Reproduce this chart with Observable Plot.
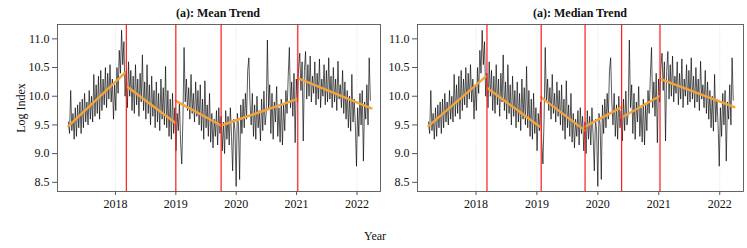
<!DOCTYPE html>
<html>
<head>
<meta charset="utf-8">
<script src="https://cdn.jsdelivr.net/npm/d3@7"></script>
<script src="https://cdn.jsdelivr.net/npm/@observablehq/plot@0.6"></script>
<style>
  body { margin: 0; background: #fff; }
  #wrap { position: relative; width: 747px; height: 248px; font-family: "Liberation Serif", "DejaVu Serif", serif; color: #111; }
  .panel { position: absolute; top: 0; }
  .title { position: absolute; top: 6px; font-size: 12px; font-weight: bold; transform: translateX(-50%); white-space: nowrap; }
  .ylab { position: absolute; left: 21px; top: 108px; font-size: 12px; transform: translate(-50%, -50%) rotate(-90deg); white-space: nowrap; }
  .xlab { position: absolute; left: 375px; top: 229px; font-size: 12px; transform: translateX(-50%); }
</style>
</head>
<body>
<div id="wrap">
  <div class="title" style="left:218px">(a): Mean Trend</div>
  <div class="title" style="left:580px">(a): Median Trend</div>
  <div class="ylab">Log Index</div>
  <div class="xlab">Year</div>
  <div id="left" class="panel" style="left:0px"></div>
  <div id="right" class="panel" style="left:380px"></div>
</div>
<script>
// Weekly log-index readings, starting 2017.22
const startYear = 2017.22;
const weekStep = 7 / 365.25;
const logIndex = [
  // 2017 spring
  9.55, 9.35, 10.10, 9.40, 9.70, 9.25, 9.80, 9.30, 9.85, 9.45, 9.90, 9.35,
  9.95, 9.45, 10.05, 9.55, 9.90, 9.50, 10.10, 9.60, 10.00, 9.55, 10.38, 9.65,
  10.20, 9.70, 10.35, 9.60, 10.45, 9.75, 10.30, 9.85, 10.50, 9.80, 10.40, 9.95, 10.55, 9.90, 10.30,
  9.60, 10.20, 9.75, 10.50, 10.05, 10.80, 10.40, 11.15, 10.55, 10.95, 10.00, 10.40,
  // 2018
  9.80, 10.60, 10.00, 10.45, 9.75, 10.35, 9.70, 10.55, 9.85, 10.30, 9.65, 10.40, 9.90, 10.72, 9.75, 10.25,
  9.60, 10.55, 9.70, 10.20, 9.50, 10.35, 9.65, 10.10, 9.45, 10.25, 9.55, 10.05, 9.40, 10.30, 9.60, 10.15, 9.50, 10.52,
  9.45, 10.10, 9.30, 9.95, 9.25, 10.05, 9.35, 9.80, 9.05,
  // 2019
  9.70, 9.40, 9.90, 9.20, 8.82, 9.60, 10.85, 9.90,
  10.30, 9.75, 10.15, 9.60, 10.38, 9.70, 10.05, 9.55, 10.25, 9.65, 10.10, 9.50,
  10.20, 9.40, 9.95, 9.25, 10.27, 9.45, 9.85, 9.30, 10.05,
  9.20, 9.70, 9.10, 9.60, 9.30, 9.75, 9.15, 9.80, 9.35, 9.65, 9.05, 9.55, 9.00,
  9.75, 9.25, 9.65, 9.15, 9.80, 9.30, 8.70, 9.60, 9.40, 8.43, 9.70, 9.50, 8.55,
  // 2020
  9.85, 9.35, 9.95, 9.45, 10.05, 9.60, 10.45, 10.67, 9.90,
  9.50, 10.05, 9.30, 9.85, 9.25, 10.00, 9.45, 9.75, 9.22, 9.95, 9.40, 10.09, 9.50,
  9.70, 10.98, 9.80, 10.20,
  9.35, 10.05, 9.25, 9.90, 9.55, 10.17, 9.30, 9.80, 9.20, 9.95, 9.15, 9.85, 9.40,
  10.10, 9.70, 10.35, 10.85, 9.80, 10.25, 9.65, 10.40, 9.19, 10.30, 9.90, 10.50,
  // 2021
  10.75, 10.10, 10.60, 9.22, 10.45, 10.78, 9.95, 10.55, 10.00, 10.70, 9.90, 10.35,
  10.05, 10.60, 9.85, 10.40, 9.95, 10.65, 9.80, 10.30, 10.00, 10.55, 9.85, 10.45, 9.90, 10.67, 9.95, 10.35, 9.80,
  10.50, 9.90, 10.30, 9.75, 10.61, 9.95, 10.20, 9.80, 10.45, 9.70, 10.25,
  9.60, 10.10, 9.45, 10.00, 9.39, 10.38, 9.55, 9.95, 9.50,
  8.78, 9.80, 9.30,
  // 2022
  10.05, 9.50, 10.10, 8.87, 9.90, 9.60, 10.20, 9.50, 10.67, 9.93
];

// Break points (decimal years)
const breaksMean = [2018.18, 2019.0, 2019.75, 2021.02];
const breaksMedian = [2018.18, 2019.07, 2019.79, 2020.39, 2021.02];

// Fitted trend segments: [x0, y0, x1, y1]
const trendMean = [
  [2017.22, 9.48, 2018.17, 10.42],
  [2018.19, 10.17, 2019.0, 9.53],
  [2019.0, 9.92, 2019.75, 9.49],
  [2019.75, 9.49, 2021.01, 9.95],
  [2021.03, 10.31, 2022.24, 9.79]
];
const trendMedian = [
  [2017.22, 9.48, 2018.17, 10.35],
  [2018.19, 10.14, 2019.06, 9.46],
  [2019.07, 9.98, 2019.79, 9.40],
  [2019.79, 9.47, 2020.39, 9.81],
  [2020.39, 9.63, 2021.01, 10.0],
  [2021.03, 10.30, 2022.24, 9.81]
];

const yearTicks = [2018, 2019, 2020, 2021, 2022];
const yTicks = [8.5, 9.0, 9.5, 10.0, 10.5, 11.0];

const series = logIndex.map((v, i) => ({x: startYear + i * weekStep, y: v}));

function segRows(segs) {
  const rows = [];
  segs.forEach((s, k) => {
    rows.push({seg: k, x: s[0], y: s[1]});
    rows.push({seg: k, x: s[2], y: s[3]});
  });
  return rows;
}

function panel(trend, breaks, width, marginLeft, marginRight) {
  const svg = Plot.plot({
    width, height: 216,
    marginTop: 24, marginBottom: 25, marginLeft, marginRight,
    style: {background: "transparent", color: "#111", overflow: "visible"},
    x: {domain: [2017.04, 2022.39], label: null},
    y: {domain: [8.34, 11.25], label: null},
    marks: [
      Plot.ruleX(yearTicks, {stroke: "#d0d0d0", strokeWidth: 0.6, strokeDasharray: "1,1.5"}),
      Plot.line(series, {x: "x", y: "y", stroke: "#000", strokeWidth: 0.65}),
      Plot.line(segRows(trend), {x: "x", y: "y", z: "seg", stroke: "#F2A33C", strokeWidth: 2.4}),
      Plot.ruleX(breaks, {stroke: "#ff1a1a", strokeWidth: 1.2}),
      Plot.frame({stroke: "#555", strokeWidth: 0.9}),
      Plot.axisX({ticks: yearTicks, tickFormat: d => String(d), tickSize: 4, tickPadding: 4, stroke: "#555", fill: "#111"}),
      Plot.axisY({ticks: yTicks, tickFormat: d => d.toFixed(1), tickSize: 5, tickPadding: 3, stroke: "#555", fill: "#111"})
    ]
  });
  d3.select(svg)
    .style("font-family", "'Liberation Serif', serif")
    .style("font-size", "12px");
  d3.select(svg).selectAll("g, text")
    .style("font-family", "'Liberation Serif', serif")
    .style("font-size", "12px")
    .style("font-variant", "normal");
  return svg;
}

document.getElementById("left").appendChild(panel(trendMean, breaksMean, 382, 57, 2));
document.getElementById("right").appendChild(panel(trendMedian, breaksMedian, 367, 37, 4));
</script>
</body>
</html>
